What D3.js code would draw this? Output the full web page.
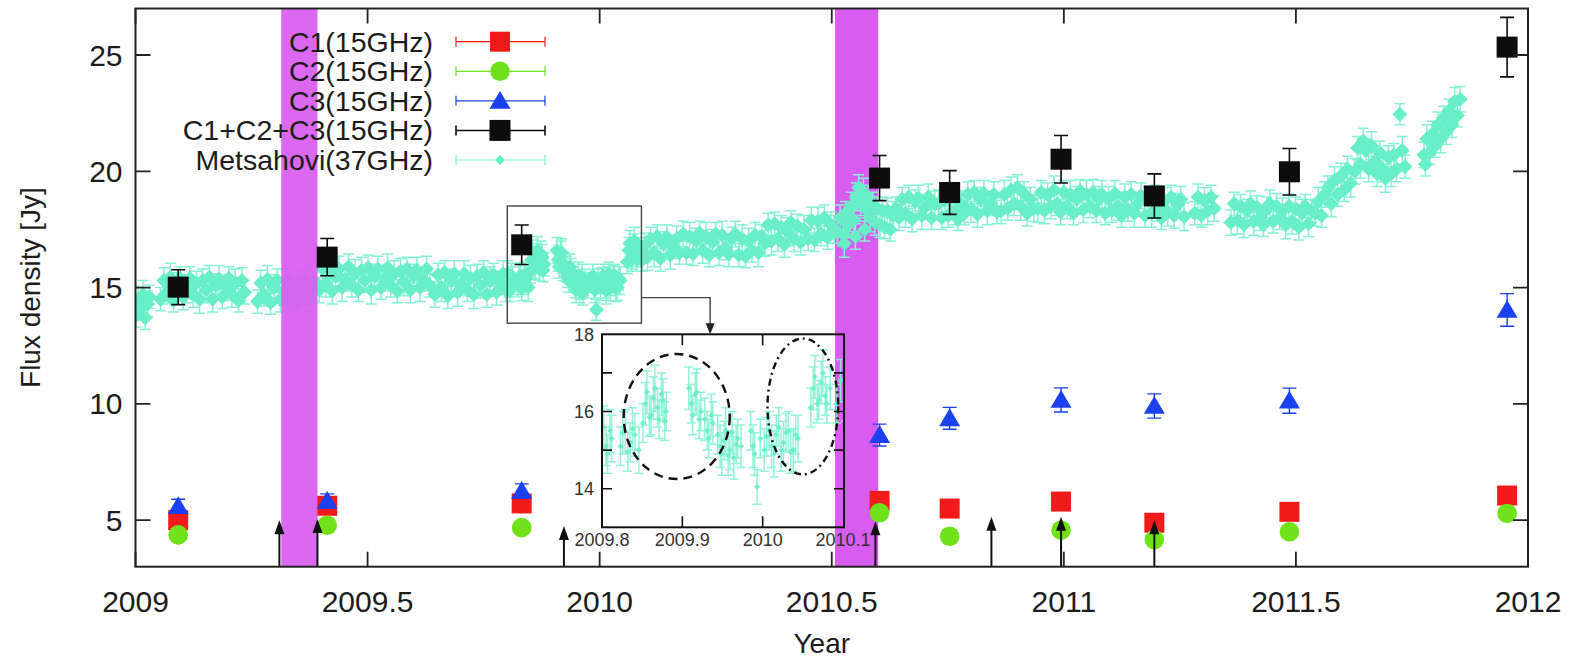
<!DOCTYPE html>
<html><head><meta charset="utf-8">
<script src="https://cdn.jsdelivr.net/npm/d3@7"></script>
<style>
body{margin:0;background:#fff}
svg{display:block}
text{font-family:"Liberation Sans",Arial,Helvetica,sans-serif}
</style>
</head><body>
<svg id="c" width="1579" height="659"></svg>
<script>
// ---------------- DATA ----------------
const epochs   = [2009.092, 2009.413, 2009.832, 2010.603, 2010.754, 2010.994, 2011.195, 2011.486, 2011.955];
const c1Flux   = [5.0, 5.62, 5.72, 5.83, 5.50, 5.80, 4.89, 5.36, 6.06];
const c1Err    = [0.25, 0.25, 0.25, 0.3, 0.3, 0.3, 0.3, 0.3, 0.3];
const c2Flux   = [4.37, 4.78, 4.68, 5.32, 4.31, 4.57, 4.17, 4.50, 5.29];
const c2Err    = [0.2, 0.2, 0.2, 0.25, 0.25, 0.25, 0.25, 0.25, 0.25];
const c3Flux   = [5.6, 5.83, 6.26, 8.66, 9.38, 10.17, 9.91, 10.14, 14.04];
const c3Err    = [0.3, 0.3, 0.3, 0.47, 0.47, 0.52, 0.52, 0.54, 0.70];
const totFlux  = [15.02, 16.31, 16.84, 19.71, 19.09, 20.52, 18.94, 19.98, 25.34];
const totErr   = [0.75, 0.80, 0.85, 0.97, 0.94, 1.02, 0.95, 1.00, 1.28];

const bandYears  = [[2009.314, 2009.392], [2010.507, 2010.600]];
const arrowYears = [2009.310, 2009.392, 2009.923, 2010.594, 2010.844, 2010.994, 2011.195];
const arrowTops  = [5.0, 5.05, 4.75, 4.95, 5.15, 5.15, 5.0];

const xTicks = [2009, 2009.5, 2010, 2010.5, 2011, 2011.5, 2012];
const xTickLabels = ["2009", "2009.5", "2010", "2010.5", "2011", "2011.5", "2012"];
const yTicks = [5, 10, 15, 20, 25];

const legendLabels = ["C1(15GHz)", "C2(15GHz)", "C3(15GHz)", "C1+C2+C3(15GHz)", "Metsahovi(37GHz)"];

const insetXTicks = [2009.8, 2009.9, 2010, 2010.1];
const insetXLabels = ["2009.8", "2009.9", "2010", "2010.1"];
const insetYTicks = [14, 15, 16, 17];
const insetYLabels = [14, 16, 18];
const zoomBox = [2009.801, 2010.09, 13.47, 18.51];
const connector = [2010.09, 2010.238, 14.57];
const insetEllipses = [[2009.893, 15.87, 0.066, 1.62], [2010.050, 16.13, 0.044, 1.76]];

// Metsahovi 37 GHz: [year, flux, error]
const mets = [
[2009.001,13.8,0.5],[2009.006,14.5,0.55],[2009.011,14.1,0.5],[2009.016,14.7,0.6],[2009.021,13.7,0.5],[2009.026,14.3,0.55],[2009.030,14.6,0.5],
[2009.054,14.5,0.5],[2009.061,15.3,0.55],[2009.068,14.8,0.5],[2009.075,15.45,0.6],[2009.082,14.45,0.5],[2009.089,15.1,0.55],[2009.096,15.4,0.5],[2009.103,14.6,0.55],[2009.110,14.95,0.6],[2009.117,15.4,0.5],[2009.124,14.7,0.55],[2009.131,15.2,0.5],[2009.138,14.5,0.6],[2009.145,15.3,0.5],[2009.152,14.9,0.55],[2009.159,15.45,0.5],[2009.166,14.5,0.55],[2009.173,15.1,0.5],[2009.180,15.35,0.6],[2009.187,14.6,0.5],[2009.194,15.0,0.55],[2009.201,15.4,0.5],[2009.208,14.7,0.55],[2009.215,15.2,0.6],[2009.222,14.45,0.5],[2009.229,15.3,0.55],[2009.235,14.8,0.5],
[2009.263,14.4,0.5],[2009.270,15.2,0.55],[2009.277,14.7,0.5],[2009.284,15.35,0.6],[2009.291,14.35,0.5],[2009.298,15.0,0.55],[2009.305,15.3,0.5],[2009.312,14.5,0.55],[2009.319,14.85,0.6],[2009.326,15.3,0.5],[2009.333,14.55,0.55],[2009.340,15.1,0.5],[2009.347,14.4,0.6],[2009.354,15.2,0.5],[2009.361,14.8,0.55],[2009.368,15.35,0.5],[2009.375,14.5,0.55],[2009.382,15.05,0.6],[2009.389,15.2,0.5],
[2009.396,14.9,0.55],[2009.403,15.8,0.5],[2009.410,15.2,0.6],[2009.417,15.85,0.5],[2009.424,14.85,0.55],[2009.431,15.5,0.5],[2009.438,15.8,0.55],[2009.445,15.0,0.6],[2009.452,15.35,0.5],[2009.459,15.9,0.55],[2009.466,15.1,0.5],[2009.473,15.6,0.6],[2009.480,14.9,0.5],[2009.487,15.75,0.55],[2009.494,15.3,0.5],[2009.501,15.85,0.55],[2009.508,14.9,0.6],[2009.515,15.5,0.5],[2009.522,15.8,0.55],[2009.529,15.0,0.5],[2009.536,15.4,0.55],[2009.543,15.85,0.6],[2009.550,15.1,0.5],[2009.557,15.6,0.55],[2009.564,14.85,0.5],[2009.571,15.7,0.55],[2009.578,15.25,0.6],[2009.585,15.8,0.5],[2009.592,14.9,0.55],[2009.599,15.5,0.5],[2009.606,15.75,0.55],[2009.613,15.0,0.6],[2009.620,15.35,0.5],[2009.627,15.8,0.55],[2009.634,15.1,0.5],
[2009.645,14.7,0.55],[2009.652,15.55,0.5],[2009.659,15.0,0.6],[2009.666,15.65,0.5],[2009.673,14.65,0.55],[2009.680,15.3,0.5],[2009.687,15.6,0.55],[2009.694,14.8,0.6],[2009.701,15.15,0.5],[2009.708,15.6,0.55],[2009.715,14.9,0.5],[2009.722,15.4,0.55],[2009.729,14.7,0.6],[2009.736,15.5,0.5],[2009.743,15.1,0.55],[2009.750,15.65,0.5],[2009.757,14.7,0.55],[2009.764,15.3,0.6],[2009.771,15.55,0.5],[2009.778,14.8,0.55],[2009.785,15.2,0.5],[2009.792,15.6,0.55],[2009.798,14.9,0.5],
[2009.802,15.6,0.55],[2009.805,15.1,0.5],[2009.807,14.9,0.5],[2009.810,15.5,0.55],[2009.812,15.3,0.6],
[2009.823,15.1,0.5],[2009.826,15.45,0.55],[2009.829,15.5,0.55],[2009.832,14.95,0.5],[2009.835,15.2,0.5],[2009.838,15.55,0.55],[2009.841,15.4,0.55],[2009.846,15.0,0.6],
[2009.851,15.7,0.5],[2009.854,16.2,0.55],[2009.856,16.5,0.55],[2009.859,15.85,0.5],[2009.861,15.9,0.5],[2009.864,16.35,0.55],[2009.866,16.6,0.6],[2009.869,16.1,0.5],[2009.871,15.8,0.5],[2009.874,16.45,0.55],[2009.876,16.3,0.55],[2009.878,15.75,0.5],[2009.880,16.0,0.5],
[2009.908,16.6,0.55],[2009.911,16.2,0.5],[2009.913,15.9,0.5],[2009.916,16.45,0.55],[2009.918,16.5,0.6],[2009.921,15.8,0.5],[2009.923,16.0,0.5],
[2009.928,15.8,0.55],[2009.931,15.5,0.5],[2009.933,15.3,0.5],[2009.936,15.9,0.55],[2009.938,15.7,0.55],
[2009.944,15.4,0.5],[2009.947,15.1,0.55],[2009.949,14.9,0.55],[2009.952,15.25,0.5],[2009.954,15.5,0.6],[2009.957,14.85,0.5],[2009.959,15.0,0.5],[2009.962,15.45,0.55],[2009.964,14.8,0.55],[2009.967,15.15,0.5],[2009.969,15.3,0.5],[2009.973,15.1,0.55],
[2009.985,15.5,0.5],[2009.988,15.1,0.55],[2009.990,14.9,0.55],[2009.993,14.05,0.45],[2009.997,15.3,0.5],
[2010.002,15.0,0.55],[2010.005,15.35,0.5],[2010.008,15.5,0.5],[2010.011,15.1,0.55],[2010.014,14.9,0.6],[2010.017,15.4,0.5],[2010.020,15.6,0.5],[2010.023,15.0,0.55],[2010.026,15.2,0.55],[2010.029,15.45,0.5],[2010.032,15.5,0.5],[2010.035,14.95,0.55],[2010.038,15.0,0.55],[2010.041,15.4,0.5],[2010.044,15.3,0.6],
[2010.060,16.1,0.5],[2010.063,16.6,0.55],[2010.065,16.9,0.55],[2010.068,16.2,0.5],[2010.070,16.3,0.5],[2010.073,16.75,0.55],[2010.075,17.0,0.6],[2010.078,16.4,0.5],[2010.080,16.2,0.5],[2010.084,16.6,0.55],
[2010.092,16.2,0.5],[2010.097,16.8,0.55],
[2010.103,16.3,0.55],[2010.110,17.1,0.5],[2010.117,16.5,0.6],[2010.124,17.2,0.5],[2010.131,16.25,0.55],[2010.138,16.9,0.5],[2010.145,17.15,0.55],[2010.152,16.4,0.6],[2010.159,16.75,0.5],[2010.166,17.1,0.55],[2010.172,16.5,0.5],
[2010.180,17.3,0.55],[2010.187,16.5,0.5],[2010.194,17.2,0.6],[2010.201,16.45,0.5],[2010.208,17.0,0.55],[2010.215,17.35,0.5],[2010.222,16.6,0.55],[2010.229,17.2,0.6],[2010.236,16.4,0.5],[2010.243,16.95,0.55],[2010.250,17.3,0.5],[2010.257,16.5,0.55],[2010.264,17.25,0.6],[2010.271,16.7,0.5],[2010.278,16.45,0.55],[2010.285,17.1,0.5],[2010.292,17.3,0.55],
[2010.300,16.4,0.5],[2010.307,17.1,0.6],[2010.314,16.35,0.5],[2010.321,17.0,0.55],[2010.328,16.6,0.5],[2010.335,17.25,0.55],[2010.342,16.5,0.6],[2010.349,17.2,0.5],
[2010.356,16.9,0.55],[2010.363,17.7,0.5],[2010.370,17.0,0.6],[2010.377,17.75,0.5],[2010.384,17.1,0.55],[2010.391,17.6,0.5],[2010.398,16.85,0.55],[2010.405,17.4,0.6],[2010.412,17.8,0.5],[2010.419,17.1,0.55],[2010.426,17.65,0.5],[2010.433,16.95,0.55],[2010.440,17.5,0.6],
[2010.449,17.1,0.5],[2010.456,17.9,0.55],[2010.463,17.05,0.5],[2010.470,17.85,0.6],[2010.477,17.3,0.5],[2010.484,18.0,0.55],[2010.491,17.15,0.5],[2010.498,17.7,0.55],[2010.505,17.5,0.6],
[2010.512,17.4,0.5],[2010.518,18.0,0.55],[2010.524,17.3,0.5],[2010.527,16.9,0.6],[2010.530,18.2,0.5],[2010.536,17.7,0.55],[2010.542,18.5,0.6],[2010.548,17.9,0.5],[2010.551,17.2,0.55],[2010.553,18.9,0.6],[2010.558,19.3,0.55],[2010.563,18.6,0.5],[2010.568,19.1,0.6],[2010.571,17.5,0.5],[2010.573,18.4,0.55],[2010.578,18.9,0.5],[2010.583,18.0,0.6],[2010.588,18.6,0.5],[2010.593,17.8,0.55],[2010.598,18.4,0.5],[2010.604,17.7,0.55],[2010.609,18.3,0.6],
[2010.614,17.6,0.5],[2010.620,18.3,0.55],[2010.626,17.5,0.5],[2010.632,18.1,0.6],[2010.638,18.4,0.5],
[2010.645,18.0,0.55],[2010.652,18.8,0.5],[2010.659,18.2,0.6],[2010.666,18.9,0.5],[2010.673,17.95,0.55],[2010.680,18.7,0.5],[2010.687,18.85,0.55],[2010.694,18.1,0.6],[2010.701,18.45,0.5],[2010.708,18.9,0.55],[2010.715,18.0,0.5],[2010.722,18.6,0.55],
[2010.730,18.6,0.6],[2010.737,18.0,0.5],[2010.744,18.8,0.55],[2010.751,18.1,0.5],[2010.758,18.85,0.55],[2010.765,18.3,0.6],[2010.772,17.95,0.5],[2010.779,18.6,0.55],
[2010.786,18.2,0.5],[2010.793,19.0,0.55],[2010.800,18.4,0.6],[2010.807,19.1,0.5],[2010.814,18.15,0.55],[2010.821,18.8,0.5],[2010.828,19.05,0.55],[2010.835,18.3,0.6],[2010.842,18.6,0.5],[2010.849,19.0,0.55],[2010.856,18.25,0.5],
[2010.865,18.3,0.55],[2010.872,19.0,0.6],[2010.879,18.4,0.5],[2010.886,19.2,0.55],[2010.893,18.6,0.5],[2010.900,19.3,0.55],[2010.907,18.5,0.6],[2010.914,19.05,0.5],[2010.921,18.2,0.55],[2010.928,18.8,0.5],[2010.935,18.4,0.55],
[2010.944,18.4,0.6],[2010.951,19.1,0.5],[2010.958,18.3,0.55],[2010.965,19.0,0.5],[2010.972,18.5,0.55],[2010.979,19.2,0.6],[2010.986,18.6,0.5],[2010.993,18.25,0.55],[2011.000,19.1,0.5],[2011.007,18.5,0.55],[2011.014,19.0,0.6],[2011.021,18.2,0.5],[2011.028,18.8,0.55],[2011.035,19.15,0.5],[2011.042,18.35,0.55],[2011.049,19.0,0.6],[2011.056,18.5,0.5],[2011.063,19.1,0.55],[2011.070,18.3,0.5],[2011.076,18.8,0.55],
[2011.082,19.0,0.6],[2011.089,18.2,0.5],[2011.096,18.8,0.55],[2011.103,18.3,0.5],[2011.110,19.05,0.55],[2011.117,18.5,0.6],[2011.124,18.1,0.5],[2011.131,18.9,0.55],[2011.138,18.35,0.5],[2011.145,19.0,0.55],[2011.152,18.2,0.6],[2011.159,18.6,0.5],[2011.166,18.95,0.55],
[2011.175,18.1,0.5],[2011.182,18.8,0.55],[2011.189,18.2,0.6],[2011.196,18.9,0.5],[2011.203,18.4,0.55],[2011.210,18.0,0.5],[2011.217,18.75,0.55],[2011.224,18.25,0.6],[2011.231,18.9,0.5],[2011.238,18.1,0.55],[2011.245,18.55,0.5],[2011.252,18.8,0.55],[2011.259,18.05,0.6],
[2011.282,18.2,0.5],[2011.289,18.9,0.55],[2011.296,18.1,0.5],[2011.303,18.75,0.55],[2011.310,18.3,0.6],[2011.317,18.9,0.5],[2011.324,18.4,0.55],
[2011.360,17.8,0.55],[2011.367,18.6,0.5],[2011.374,17.9,0.6],[2011.381,18.5,0.5],[2011.388,17.7,0.55],[2011.395,18.3,0.5],[2011.402,18.6,0.55],[2011.409,17.85,0.6],[2011.416,18.45,0.5],[2011.423,18.0,0.55],[2011.430,17.7,0.5],[2011.437,18.35,0.55],[2011.444,18.6,0.6],[2011.451,17.85,0.5],[2011.458,18.5,0.55],[2011.465,18.0,0.5],[2011.471,18.3,0.55],
[2011.478,17.7,0.6],[2011.485,18.5,0.5],[2011.492,17.85,0.55],[2011.499,18.4,0.5],[2011.506,17.6,0.55],[2011.513,18.2,0.6],[2011.520,18.5,0.5],[2011.527,17.75,0.55],[2011.534,18.3,0.5],
[2011.541,18.2,0.55],[2011.548,18.7,0.6],[2011.555,18.1,0.5],[2011.562,19.0,0.55],[2011.569,19.3,0.5],[2011.576,18.6,0.55],[2011.583,19.6,0.6],[2011.590,19.0,0.5],[2011.597,19.8,0.55],[2011.604,19.2,0.5],[2011.611,20.1,0.55],[2011.618,19.5,0.6],
[2011.627,20.0,0.55],[2011.633,21.0,0.5],[2011.639,20.3,0.6],[2011.645,21.3,0.55],[2011.651,20.9,0.5],[2011.657,20.1,0.55],[2011.663,21.1,0.6],[2011.669,20.4,0.5],[2011.675,19.9,0.55],[2011.681,20.8,0.5],[2011.687,20.1,0.55],[2011.693,19.7,0.6],[2011.699,20.6,0.5],[2011.705,19.9,0.55],[2011.711,20.7,0.5],[2011.717,20.1,0.55],[2011.724,22.45,0.45],[2011.729,20.9,0.6],[2011.735,20.2,0.5],
[2011.776,20.7,0.55],[2011.779,20.3,0.5],[2011.782,21.4,0.6],[2011.788,20.8,0.5],[2011.794,21.6,0.55],[2011.800,21.1,0.5],[2011.806,22.0,0.55],[2011.812,21.4,0.6],[2011.818,22.3,0.5],[2011.824,21.7,0.55],[2011.830,22.6,0.5],[2011.836,22.0,0.55],[2011.842,23.0,0.6],[2011.848,22.4,0.5],[2011.854,23.1,0.55]
];

// ---------------- STYLE / LAYOUT ----------------
const RED="#f21b1b", GREEN="#6fe21a", BLUE="#1b40ef", BLACK="#0d0d0d", AQUA="#68efc7", AQUA_EB="#86f2d3", MAG="#d95cf0";
const FONT=30, LFONT=28.5, TXT="#1c1c1c";
const m = {l:135.5, r:1528, t:8.5, b:566.7};
const svg = d3.select("#c");
const x = d3.scaleLinear().domain([2009, 2012]).range([m.l, m.r]);
const y = d3.scaleLinear().domain([3, 27]).range([m.b, m.t]);

const defs = svg.append("defs");
defs.append("clipPath").attr("id","pc").append("rect")
  .attr("x",m.l).attr("y",m.t).attr("width",m.r-m.l).attr("height",m.b-m.t);

const plot = svg.append("g").attr("clip-path","url(#pc)");

function bandRect(sel, b, op){
  sel.append("rect").attr("x", x(b[0])).attr("y", m.t)
    .attr("width", x(b[1]) - x(b[0])).attr("height", m.b - m.t)
    .attr("fill", MAG).attr("opacity", op);
}
bandRect(plot, bandYears[1], 1);

function metsPaths(data, sx, sy, cap, ds){
  let eb = "", dm = "";
  data.forEach(([t, v, e]) => {
    const px = sx(t), py = sy(v), y0 = sy(v - e), y1 = sy(v + e);
    eb += `M${px},${y1}V${y0}M${px-cap},${y1}H${px+cap}M${px-cap},${y0}H${px+cap}`;
    dm += `M${px},${py-ds}L${px+ds},${py}L${px},${py+ds}L${px-ds},${py}Z`;
  });
  return [eb, dm];
}
const [mEb, mDm] = metsPaths(mets, x, y, 5.5, 7.5);
plot.append("path").attr("d", mEb).attr("stroke", AQUA_EB).attr("stroke-width", 1.5).attr("fill", "none");
plot.append("path").attr("d", mDm).attr("fill", AQUA);

bandRect(plot, bandYears[0], 0.93);

svg.append("rect").attr("x", x(zoomBox[0])).attr("y", y(zoomBox[3]))
  .attr("width", x(zoomBox[1]) - x(zoomBox[0])).attr("height", y(zoomBox[2]) - y(zoomBox[3]))
  .attr("fill", "none").attr("stroke", "#444").attr("stroke-width", 1.4);

// ---------------- INSET ----------------
const ix = d3.scaleLinear().domain([2009.8, 2010.1]).range([602, 843]);
const iy = d3.scaleLinear().domain([13, 18]).range([527.3, 334.3]);
const insR = 844;
svg.append("path")
  .attr("d", `M${x(connector[0])},${y(connector[2])}H${x(connector[1])}V${iy(18)-9}`)
  .attr("fill","none").attr("stroke","#444").attr("stroke-width",1.4);
svg.append("path")
  .attr("d", `M${x(connector[1])-4.5},${iy(18)-11}L${x(connector[1])+4.5},${iy(18)-11}L${x(connector[1])},${iy(18)}Z`)
  .attr("fill","#222");

defs.append("clipPath").attr("id","ic").append("rect")
  .attr("x", ix.range()[0]).attr("y", iy(18)).attr("width", insR - ix.range()[0]).attr("height", iy(13) - iy(18));
const inset = svg.append("g");
const insetData = mets.filter(d => d[0] >= 2009.79 && d[0] <= 2010.11);
const [iEb, iDm] = metsPaths(insetData, ix, iy, 4.5, 3);
const ig = inset.append("g").attr("clip-path", "url(#ic)");
ig.append("path").attr("d", iEb).attr("stroke", AQUA_EB).attr("stroke-width", 1.5).attr("fill","none").attr("opacity",0.9);
ig.append("path").attr("d", iDm).attr("fill", AQUA).attr("opacity",0.9);

insetEllipses.forEach((e, i) => {
  inset.append("ellipse")
    .attr("cx", ix(e[0])).attr("cy", iy(e[1]))
    .attr("rx", ix(e[0] + e[2]) - ix(e[0])).attr("ry", iy(e[1] - e[3]) - iy(e[1]))
    .attr("fill", "none").attr("stroke", "#111").attr("stroke-width", 2.4)
    .attr("stroke-dasharray", i === 0 ? "9,6" : "7,4,2,4");
});
inset.append("rect").attr("x", ix.range()[0]).attr("y", iy(18))
  .attr("width", insR - ix.range()[0]).attr("height", iy(13) - iy(18))
  .attr("fill","none").attr("stroke","#111").attr("stroke-width",2);
let itp = "";
insetXTicks.filter(t => t > 2009.8 && t < 2010.1).forEach(t => {
  itp += `M${ix(t)},${iy(13)}v-11M${ix(t)},${iy(18)}v11`;
});
insetYTicks.forEach(t => {
  itp += `M${ix.range()[0]},${iy(t)}h10M${insR},${iy(t)}h-10`;
});
inset.append("path").attr("d", itp).attr("stroke","#111").attr("stroke-width",1.6).attr("fill","none");
insetXTicks.forEach((t, i) => {
  inset.append("text").attr("x", ix(t)).attr("y", iy(13) + 19)
    .attr("text-anchor","middle").attr("font-size",18).attr("fill","#333").text(insetXLabels[i]);
});
insetYLabels.forEach(t => {
  inset.append("text").attr("x", ix.range()[0] - 8).attr("y", iy(t) + 6.5)
    .attr("text-anchor","end").attr("font-size",18).attr("fill","#333").text(t);
});

// ---------------- MARKERS ----------------
const mk = svg.append("g").attr("clip-path","url(#pc)");
function errBars(vals, errs, color, cap, w){
  let d = "";
  epochs.forEach((t, i) => {
    const px = x(t), a = y(vals[i] + errs[i]), b = y(vals[i] - errs[i]);
    d += `M${px},${a}V${b}M${px-cap},${a}H${px+cap}M${px-cap},${b}H${px+cap}`;
  });
  mk.append("path").attr("d", d).attr("stroke", color).attr("stroke-width", w).attr("fill","none");
}
errBars(c1Flux, c1Err, RED, 7, 1.2);
mk.selectAll(".c1").data(epochs).join("rect")
  .attr("x", d => x(d) - 10).attr("y", (d,i) => y(c1Flux[i]) - 10)
  .attr("width", 20).attr("height", 20).attr("fill", RED);
errBars(c2Flux, c2Err, GREEN, 7, 1.2);
mk.selectAll(".c2").data(epochs).join("circle")
  .attr("cx", d => x(d)).attr("cy", (d,i) => y(c2Flux[i])).attr("r", 9.8).attr("fill", GREEN);
errBars(c3Flux, c3Err, BLUE, 7, 1.4);
const tri = (cx, cy, s) => `M${cx},${cy - s*0.95}L${cx + s},${cy + s*0.75}L${cx - s},${cy + s*0.75}Z`;
mk.selectAll(".c3").data(epochs).join("path")
  .attr("d", (d,i) => tri(x(d), y(c3Flux[i]), 10.5)).attr("fill", BLUE);
errBars(totFlux, totErr, BLACK, 7, 1.6);
mk.selectAll(".tot").data(epochs).join("rect")
  .attr("x", d => x(d) - 10.5).attr("y", (d,i) => y(totFlux[i]) - 10.5)
  .attr("width", 21).attr("height", 21).attr("fill", BLACK);

arrowYears.forEach((t, i) => {
  const px = x(t), top = y(arrowTops[i]);
  svg.append("line").attr("x1", px).attr("x2", px).attr("y1", m.b).attr("y2", top + 10)
    .attr("stroke", "#111").attr("stroke-width", 2);
  svg.append("path").attr("d", `M${px-5},${top+14}L${px},${top}L${px+5},${top+14}Z`).attr("fill","#111");
});

// ---------------- AXES / FRAME ----------------
const ax = svg.append("g");
let tp = "";
xTicks.forEach(t => { tp += `M${x(t)},${m.b}v-15M${x(t)},${m.t}v15`; });
yTicks.forEach(t => { tp += `M${m.l},${y(t)}h15M${m.r},${y(t)}h-15`; });
ax.append("path").attr("d", tp).attr("stroke", "#222").attr("stroke-width", 1.8).attr("fill","none");
ax.append("rect").attr("x", m.l).attr("y", m.t).attr("width", m.r - m.l).attr("height", m.b - m.t)
  .attr("fill","none").attr("stroke","#222").attr("stroke-width",2);

xTicks.forEach((t, i) => {
  ax.append("text").attr("x", x(t)).attr("y", m.b + 45).attr("text-anchor","middle")
    .attr("font-size", FONT).attr("fill", TXT).text(xTickLabels[i]);
});
yTicks.forEach(t => {
  ax.append("text").attr("x", m.l - 13).attr("y", y(t) + 10.5).attr("text-anchor","end")
    .attr("font-size", FONT).attr("fill", TXT).text(t);
});
ax.append("text").attr("x", (m.l + m.r) / 2 - 10).attr("y", 653).attr("text-anchor","middle")
  .attr("font-size", 28).attr("fill", TXT).text("Year");
ax.append("text").attr("transform", `translate(40,${(m.t + m.b) / 2}) rotate(-90)`)
  .attr("text-anchor","middle").attr("font-size", 28).attr("fill", TXT).text("Flux density [Jy]");

// ---------------- LEGEND ----------------
const lg = svg.append("g");
const legColors = [RED, GREEN, BLUE, BLACK, AQUA];
const rowY = d3.scaleLinear().domain([0, 4]).range([41.7, 160]);
legendLabels.forEach((lab, i) => {
  const cy = rowY(i);
  lg.append("text").attr("x", 433).attr("y", cy + 10).attr("text-anchor","end")
    .attr("font-size", LFONT).attr("fill", TXT).text(lab);
  const c = legColors[i];
  lg.append("path").attr("d", `M456,${cy}H545M456,${cy-5}V${cy+5}M545,${cy-5}V${cy+5}`)
    .attr("stroke", i === 4 ? AQUA_EB : c).attr("stroke-width", i === 3 ? 1.6 : 1.2).attr("fill","none");
  if (i === 0) lg.append("rect").attr("x", 490).attr("y", cy - 10).attr("width", 20).attr("height", 20).attr("fill", c);
  if (i === 1) lg.append("circle").attr("cx", 500).attr("cy", cy).attr("r", 9.8).attr("fill", c);
  if (i === 2) lg.append("path").attr("d", tri(500, cy, 10.5)).attr("fill", c);
  if (i === 3) lg.append("rect").attr("x", 489.5).attr("y", cy - 10.5).attr("width", 21).attr("height", 21).attr("fill", c);
  if (i === 4) lg.append("path").attr("d", `M500,${cy-5}L505,${cy}L500,${cy+5}L495,${cy}Z`).attr("fill", c);
});
</script>
</body></html>
